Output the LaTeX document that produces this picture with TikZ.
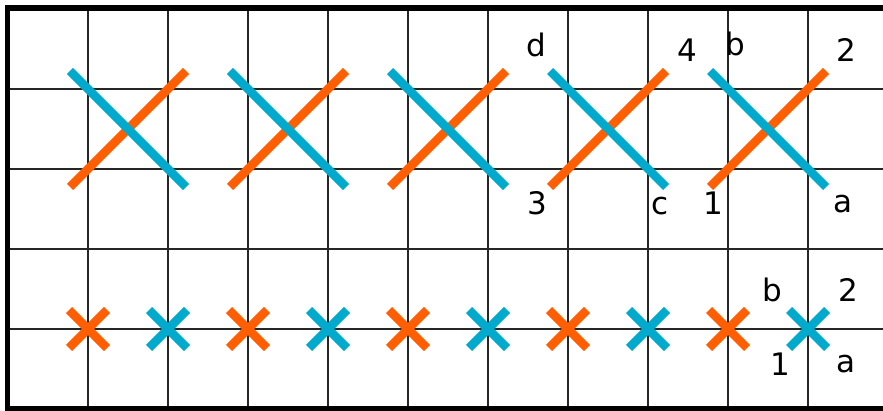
\documentclass[tikz,border=0pt]{standalone}
\usepackage{fontspec}
\setmainfont{DejaVu Sans}
\definecolor{stitchorange}{RGB}{255,95,0}
\definecolor{stitchblue}{RGB}{0,170,204}
\tikzset{
  gridline/.style={line width=2pt, black!85},
  frame/.style={line width=5.5pt, black},
  ostitch/.style={line width=8.5pt, stitchorange},
  bstitch/.style={line width=8.5pt, stitchblue},
  lbl/.style={anchor=base, inner sep=0pt, font=\fontsize{31}{34}\selectfont}
}
\begin{document}
\begin{tikzpicture}[x=1pt,y=-1pt]
\useasboundingbox (0,0) rectangle (883,411);
\clip (0,0) rectangle (883,411);
\fill[white] (0,0) rectangle (883,411);
% grid
\foreach \i in {0,...,10} {
  \draw[gridline] (88+80*\i,8) -- (88+80*\i,408);
}
\foreach \j in {0,...,3} {
  \draw[gridline] (8,89+80*\j) -- (890,89+80*\j);
}
% frame
\draw[frame] (7.5,8) rectangle (900,408.5);
% large crosses
\foreach \k in {0,...,4} {
  \draw[ostitch] (128+160*\k-58,129+58) -- (128+160*\k+58,129-58);
  \draw[bstitch] (128+160*\k-58,129-58) -- (128+160*\k+58,129+58);
}
% small crosses
\foreach \k in {0,2,4,6,8} {
  \draw[ostitch] (88+80*\k-19,329-19) -- (88+80*\k+19,329+19);
  \draw[ostitch] (88+80*\k-19,329+19) -- (88+80*\k+19,329-19);
}
\foreach \k in {1,3,5,7,9} {
  \draw[bstitch] (88+80*\k-19,329-19) -- (88+80*\k+19,329+19);
  \draw[bstitch] (88+80*\k-19,329+19) -- (88+80*\k+19,329-19);
}
% labels top row
\node[lbl] (d) at (536,57) {d};
\node[lbl] (four) at (687,62) {4};
\node[lbl] (b1) at (735,56) {b};
\node[lbl] (two1) at (846,62) {2};
\node[lbl] (three) at (537,215) {3};
\node[lbl] (c) at (660,215) {c};
\node[lbl] (one1) at (713,215) {1};
\node[lbl] (a1) at (843,213) {a};
% labels bottom row
\node[lbl] (b2) at (772,302) {b};
\node[lbl] (two2) at (848,302) {2};
\node[lbl] (one2) at (780,375) {1};
\node[lbl] (a2) at (846,372) {a};
\end{tikzpicture}
\end{document}
